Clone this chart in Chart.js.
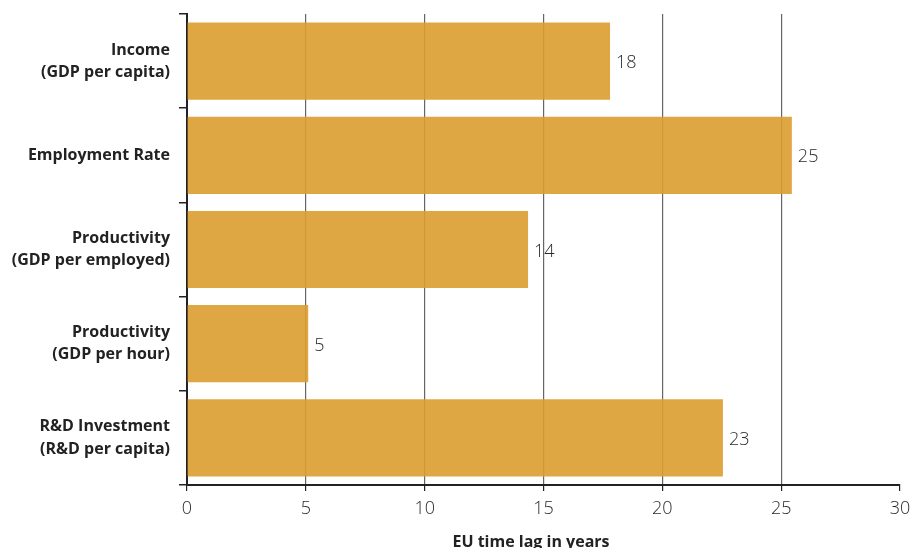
<!DOCTYPE html>
<html>
<head>
<meta charset="utf-8">
<script src="https://cdn.jsdelivr.net/npm/chart.js@4/dist/chart.umd.min.js"></script>
<style>
    html, body { margin: 0; padding: 0; background: #fff; }
    #wrap { width: 912px; height: 548px; }
</style>
</head>
<body>
<div id="wrap"><canvas id="lagChart" width="912" height="548"></canvas></div>
<script>
// categories (multi-line labels) and values in years
const categories = [
    ['Income', '(GDP per capita)'],
    'Employment Rate',
    ['Productivity', '(GDP per employed)'],
    ['Productivity', '(GDP per hour)'],
    ['R&D Investment', '(R&D per capita)']
];
const lagYears = [17.8, 25.45, 14.35, 5.1, 22.55];
const xTicks = [0, 5, 10, 15, 20, 25, 30];
const axisTitle = 'EU time lag in years';

// value labels at the end of each bar + axis title
const barLabels = {
    id: 'barLabels',
    afterDatasetsDraw(chart) {
        const ctx = chart.ctx;
        const meta = chart.getDatasetMeta(0);
        ctx.save();
        ctx.font = '300 18px "Open Sans", sans-serif';
        ctx.fillStyle = '#2a2a2a';
        ctx.textAlign = 'left';
        ctx.textBaseline = 'middle';
        meta.data.forEach((bar, i) => {
            ctx.fillText(String(Math.round(lagYears[i])), bar.x + 6, bar.y + 2);
        });
        ctx.restore();
    },
    afterDraw(chart) {
        const ctx = chart.ctx;
        ctx.save();
        ctx.font = 'bold 16px "Open Sans", sans-serif';
        ctx.fillStyle = '#222';
        ctx.textAlign = 'center';
        ctx.textBaseline = 'middle';
        ctx.fillText(axisTitle, 531, 542);
        ctx.restore();
    }
};

const ctx = document.getElementById('lagChart').getContext('2d');
new Chart(ctx, {
    type: 'bar',
    data: {
        labels: categories,
        datasets: [{
            data: lagYears,
            backgroundColor: 'rgba(219,157,47,0.9)',
            borderWidth: 0,
            categoryPercentage: 1,
            barPercentage: 0.82
        }]
    },
    plugins: [barLabels],
    options: {
        indexAxis: 'y',
        responsive: false,
        animation: false,
        layout: { padding: { top: 14, right: 12, left: 0, bottom: 0 } },
        plugins: {
            legend: { display: false },
            tooltip: { enabled: false }
        },
        scales: {
            x: {
                min: 0,
                max: 30,
                afterBuildTicks: (scale) => {
                    scale.ticks = xTicks.map(v => ({ value: v }));
                },
                afterFit: (scale) => {
                    scale.height = 63;
                    scale.paddingLeft = 0;
                    scale.paddingRight = 0;
                },
                border: { color: '#222', width: 2 },
                grid: {
                    color: (c) => (c.tick && (c.tick.value === 0 || c.tick.value === 30)) ? 'rgba(0,0,0,0)' : '#666',
                    lineWidth: 1.2,
                    tickColor: '#222',
                    tickLength: 6,
                    z: -1
                },
                ticks: {
                    padding: 7,
                    color: '#2a2a2a',
                    font: { family: '"Open Sans", sans-serif', size: 18, weight: '300' },
                    maxRotation: 0
                }
            },
            y: {
                afterFit: (scale) => {
                    scale.width = 187;
                    scale.paddingTop = 0;
                    scale.paddingBottom = 0;
                },
                border: { color: '#222', width: 2 },
                grid: {
                    offset: true,
                    drawOnChartArea: false,
                    tickColor: '#222',
                    tickLength: 8,
                    lineWidth: 1.5
                },
                ticks: {
                    padding: 9,
                    color: '#222',
                    font: { family: '"Open Sans", sans-serif', size: 16, weight: 'bold', lineHeight: 1.38 }
                }
            }
        }
    }
});
</script>
</body>
</html>
